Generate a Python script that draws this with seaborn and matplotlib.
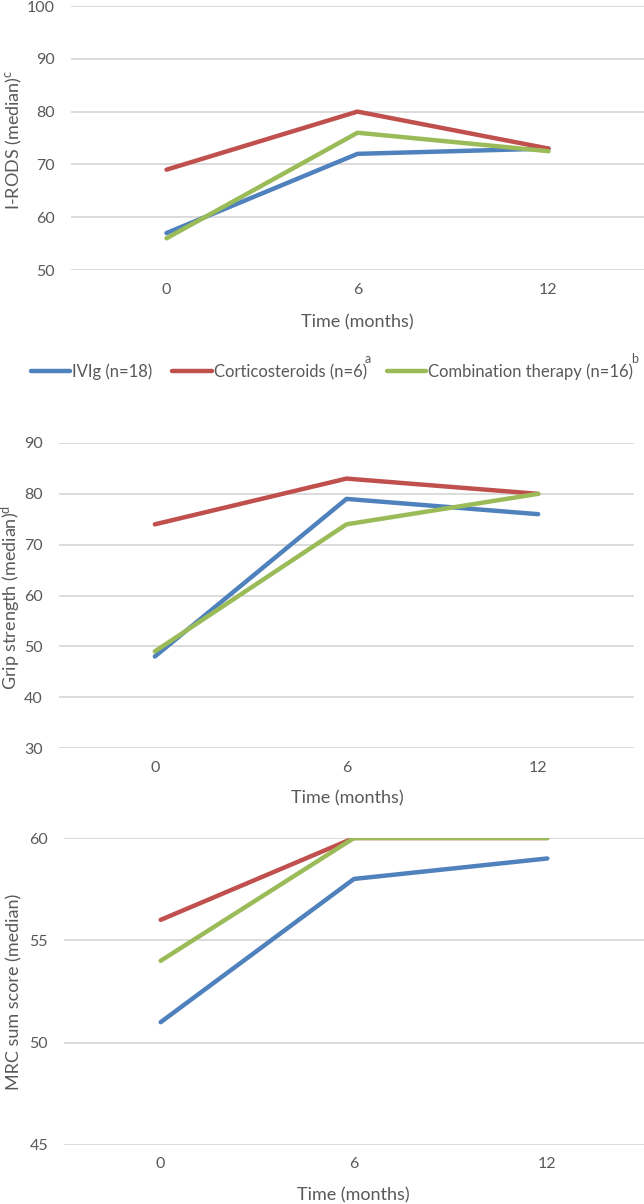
import pandas as pd
import seaborn as sns
import matplotlib.pyplot as plt

# months after start of treatment
months = [0, 6, 12]
groups = ['IVIg (n=18)', 'Corticosteroids (n=6)', 'Combination therapy (n=16)']

# medians
irods_ivig = [57, 72, 73]
irods_cort = [69, 80, 73]
irods_comb = [56, 76, 72.5]

grip_ivig = [48, 79, 76]
grip_cort = [74, 83, 80]
grip_comb = [49, 74, 80]

mrc_ivig = [51, 58, 59]
mrc_cort = [56, 60, 60]
mrc_comb = [54, 60, 60]

colors = ['#4F81BD', '#C0504D', '#9BBB59']
grey = '#595959'

sns.set_theme(style='white')
plt.rcParams['font.family'] = ['Lato', 'DejaVu Sans']
plt.rcParams['mathtext.fontset'] = 'custom'
plt.rcParams['mathtext.rm'] = 'Lato'
plt.rcParams['mathtext.it'] = 'Lato'


def long_table(ivig, cort, comb):
    rows = []
    for g, vals in zip(groups, [ivig, cort, comb]):
        for m, v in zip(months, vals):
            rows.append({'month': m, 'group': g, 'value': v})
    return pd.DataFrame(rows)


fig = plt.figure(figsize=(6.44, 12.04), dpi=100)

# axes boxes in pixels: left, right, top, bottom
panels = [
    (long_table(irods_ivig, irods_cort, irods_comb), (71, 644, 6, 270), (50, 100), 10,
     'I-RODS (median)$^{\\mathrm{c}}$', (-0.0995, 0.492), (0.499, -0.197)),
    (long_table(grip_ivig, grip_cort, grip_comb), (59, 634, 443, 748), (30, 90), 10,
     'Grip strength (median)$^{\\mathrm{d}}$', (-0.084, 0.495), (0.501, -0.164)),
    (long_table(mrc_ivig, mrc_cort, mrc_comb), (64, 644, 838, 1145), (45, 60), 5,
     'MRC sum score (median)', (-0.086, 0.498), (0.498, -0.163)),
]

W, H = 644, 1204
for df, (left, right, top, bottom), ylim, step, ylab, ypos, xpos in panels:
    ax = fig.add_axes([left / W, 1 - bottom / H, (right - left) / W, (bottom - top) / H])
    sns.lineplot(data=df, x='month', y='value', hue='group', hue_order=groups,
                 palette=colors, linewidth=3.2, ax=ax, legend=False,
                 solid_capstyle='round')
    ax.set_ylim(*ylim)
    ax.set_yticks(range(ylim[0], ylim[1] + 1, step))
    ax.set_xticks(months)
    ax.set_xlim(-3, 15)
    ax.grid(axis='y', color='#d9d9d9', linewidth=1.3)
    ax.set_axisbelow(True)
    sns.despine(ax=ax, left=True, bottom=True)
    ax.tick_params(axis='y', length=0, pad=11.5, labelsize=11.5, labelcolor=grey)
    ax.tick_params(axis='x', length=0, pad=9, labelsize=11.5, labelcolor=grey)
    ax.set_xlabel('Time (months)', fontsize=13, color=grey)
    ax.set_ylabel(ylab, fontsize=13, color=grey)
    ax.xaxis.label.set_va('center')
    ax.yaxis.label.set_va('center')
    ax.xaxis.set_label_coords(*xpos)
    ax.yaxis.set_label_coords(*ypos)

# shared legend between first and second panel
handles = [plt.Line2D([], [], color=c, linewidth=3.2) for c in colors]
leg = fig.legend(handles, groups, loc='center left', bbox_to_anchor=(31 / W, 1 - 372 / H),
                 ncol=3, frameon=False, fontsize=12, handlelength=2.35,
                 handletextpad=0.12, columnspacing=1.2, borderpad=0, borderaxespad=0)
for t in leg.get_texts():
    t.set_color(grey)

# footnote marks a and b sit high after the last two legend entries
fig.canvas.draw()
inv = fig.transFigure.inverted()
for t, mark in zip(leg.get_texts()[1:], ['a', 'b']):
    bb = t.get_window_extent()
    x, y = inv.transform((bb.x1, bb.y1))
    fig.text(x - 0.003, y + 0.004, mark, fontsize=9, color=grey, ha='left', va='center')

fig.savefig('out.png', dpi=100)
